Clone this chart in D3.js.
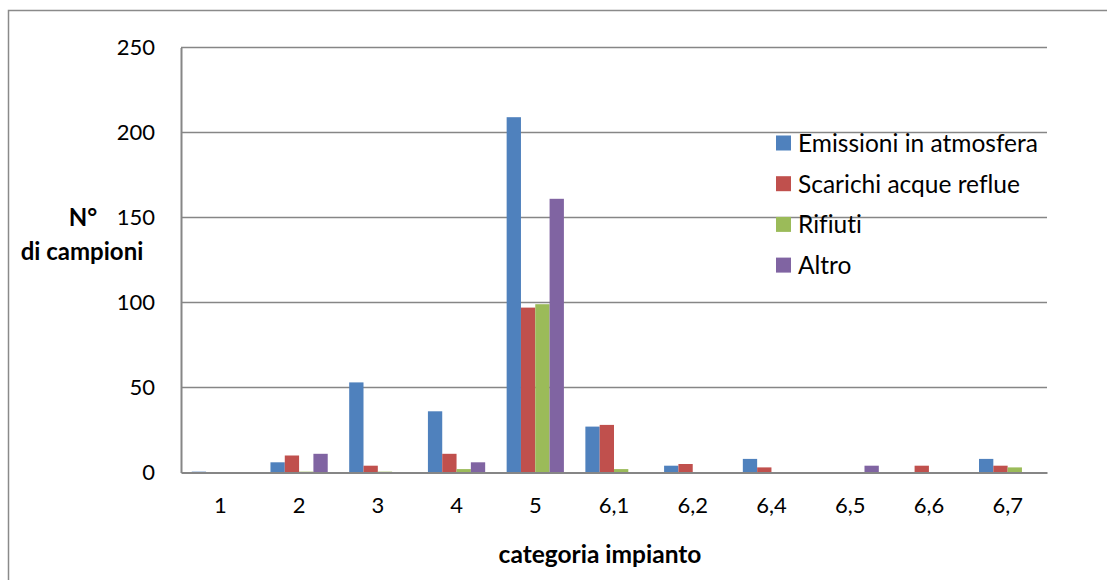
<!DOCTYPE html>
<html>
<head>
<meta charset="utf-8">
<script src="https://cdn.jsdelivr.net/npm/d3@7"></script>
<style>
  html, body { margin: 0; padding: 0; background: #fff; }
  svg { display: block; }
  text { font-family: Lato, "Open Sans", sans-serif; fill: #000; font-variant-ligatures: none; font-feature-settings: "liga" 0, "clig" 0; }
</style>
</head>
<body>
<svg id="chart" width="1107" height="580"></svg>
<script>
const categories = ["1", "2", "3", "4", "5", "6,1", "6,2", "6,4", "6,5", "6,6", "6,7"];
const seriesNames = ["Emissioni in atmosfera", "Scarichi acque reflue", "Rifiuti", "Altro"];
const emissioni = [0.5, 6, 53, 36, 209, 27, 4, 8, 0, 0, 8];
const scarichi  = [0, 10, 4, 11, 97, 28, 5, 3, 0, 4, 4];
const rifiuti   = [0, 0.5, 0.5, 2, 99, 2, 0, 0, 0, 0, 3];
const altro     = [0, 11, 0, 6, 161, 0, 0, 0, 4, 0, 0];
const yTicks = [0, 50, 100, 150, 200, 250];
const colors = ["#4F81BD", "#C0504D", "#9BBB59", "#8064A2"];

const seriesValues = [emissioni, scarichi, rifiuti, altro];
const svg = d3.select("#chart");

const plot = { left: 181, right: 1047, top: 47.5, bottom: 472.5 };

// outer border
svg.append("rect").attr("x", 8.5).attr("y", 10.5).attr("width", 1120).attr("height", 600)
  .attr("fill", "none").attr("stroke", "#8a8a8a").attr("stroke-width", 1.5);

const x0 = d3.scaleBand().domain(categories).range([plot.left, plot.right]).paddingInner(0).paddingOuter(0);
const bw = x0.bandwidth() / 5.5;
const x1 = d3.scaleBand().domain(d3.range(4)).range([0, bw * 4]);
const y = d3.scaleLinear().domain([0, 250]).range([plot.bottom, plot.top]);

// gridlines
svg.append("g").selectAll("line").data(yTicks.filter(d => d > 0)).join("line")
  .attr("x1", plot.left).attr("x2", plot.right)
  .attr("y1", d => y(d)).attr("y2", d => y(d))
  .attr("stroke", "#868686").attr("stroke-width", 1.5);

// bars
const groups = svg.append("g").selectAll("g").data(categories).join("g")
  .attr("transform", c => `translate(${x0(c) + bw * 0.75},0)`);
groups.selectAll("rect").data((c, i) => seriesValues.map((s, k) => ({ k, v: s[i] })))
  .join("rect")
  .attr("x", d => x1(d.k))
  .attr("width", x1.bandwidth())
  .attr("y", d => y(d.v))
  .attr("height", d => y(0) - y(d.v))
  .attr("fill", d => colors[d.k]);

// axes
const yAxis = d3.axisLeft(y).tickValues(yTicks).tickSize(0).tickPadding(26);
const gy = svg.append("g").attr("transform", `translate(${plot.left},0)`).call(yAxis);
gy.select(".domain").attr("stroke", "#868686").attr("stroke-width", 2);
gy.selectAll("text").style("font-size", "22px").style("font-family", "Lato, sans-serif");

const xAxis = d3.axisBottom(x0).tickSize(0).tickPadding(25);
const gx = svg.append("g").attr("transform", `translate(0,${plot.bottom})`).call(xAxis);
gx.select(".domain").attr("stroke", "#868686").attr("stroke-width", 2);
gx.selectAll("text").style("font-size", "22px").style("font-family", "Lato, sans-serif");

// axis titles
svg.append("text").attr("x", 600).attr("y", 563).attr("text-anchor", "middle")
  .style("font-size", "24.5px").style("font-weight", "bold").text("categoria impianto");
svg.append("text").attr("x", 83).attr("y", 226).attr("text-anchor", "middle")
  .style("font-size", "24px").style("font-weight", "bold").text("N°");
svg.append("text").attr("x", 82).attr("y", 260).attr("text-anchor", "middle")
  .style("font-size", "24px").style("font-weight", "bold").text("di campioni");

// legend
const legend = svg.append("g").selectAll("g").data(seriesNames).join("g")
  .attr("transform", (d, i) => `translate(776,${143 + i * 40.7})`);
legend.append("rect").attr("x", 0).attr("y", -7.5).attr("width", 15).attr("height", 15)
  .attr("fill", (d, i) => colors[i]);
legend.append("text").attr("x", 22).attr("y", 9).style("font-size", "24.5px").text(d => d);
</script>
</body>
</html>
